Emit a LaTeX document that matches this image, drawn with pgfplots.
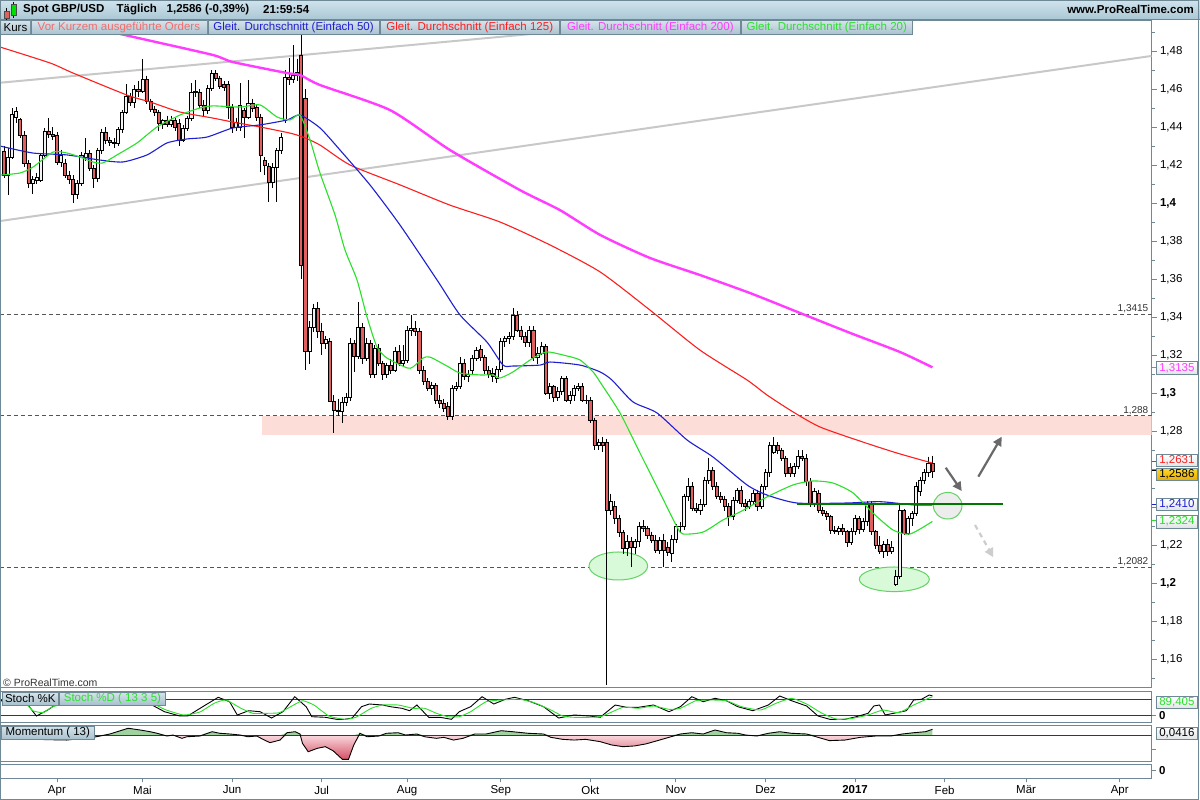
\documentclass[border=0pt]{standalone}
\usepackage{pgfplots}
\pgfplotsset{compat=1.18}
\usepackage{pgfplotstable}
\usepackage{fontspec}
\setmainfont{Liberation Sans}
\usetikzlibrary{arrows.meta}

\definecolor{framecol}{RGB}{111,136,150}
\definecolor{hdtop}{RGB}{208,227,236}
\definecolor{hdbot}{RGB}{170,199,213}
\definecolor{boxtop}{RGB}{214,228,235}
\definecolor{boxbot}{RGB}{168,193,206}
\definecolor{candlered}{RGB}{224,96,96}
\definecolor{candlewhite}{RGB}{243,243,243}
\definecolor{smagreen}{RGB}{40,225,40}
\definecolor{smablue}{RGB}{30,30,210}
\definecolor{smared}{RGB}{255,30,30}
\definecolor{smamag}{RGB}{255,60,255}
\definecolor{trendgray}{RGB}{200,200,200}
\definecolor{pinkzone}{RGB}{253,221,216}
\definecolor{darkgreen}{RGB}{0,120,0}
\definecolor{ellfill}{RGB}{216,250,216}
\definecolor{elldraw}{RGB}{100,210,100}
\definecolor{levelblue}{RGB}{40,40,180}
\definecolor{ordertext}{RGB}{240,110,110}
\definecolor{arrowgray}{RGB}{105,105,105}
\definecolor{lightarrow}{RGB}{205,205,205}
\definecolor{dashgray}{RGB}{85,85,85}
\definecolor{momgreen}{RGB}{160,210,160}
\definecolor{mompinktop}{RGB}{250,215,222}
\definecolor{mompinkbot}{RGB}{212,80,100}
\definecolor{goldtop}{RGB}{255,218,40}
\definecolor{goldbot}{RGB}{232,170,0}
\definecolor{valgray}{RGB}{225,228,230}

\pgfplotstableread{
i o h l c
0 1.4274 1.4300 1.4131 1.4147
1 1.4147 1.4290 1.4042 1.4242
2 1.4242 1.4500 1.4230 1.4468
3 1.4453 1.4505 1.4420 1.4480
4 1.4440 1.4447 1.4340 1.4358
5 1.4358 1.4380 1.4190 1.4210
6 1.4210 1.4225 1.4079 1.4105
7 1.4105 1.4140 1.4047 1.4126
8 1.4121 1.4160 1.4100 1.4137
9 1.4121 1.4265 1.4110 1.4252
10 1.4252 1.4395 1.4240 1.4379
11 1.4379 1.4447 1.4340 1.4363
12 1.4363 1.4400 1.4330 1.4352
13 1.4358 1.4375 1.4200 1.4216
14 1.4216 1.4280 1.4190 1.4252
15 1.4210 1.4230 1.4130 1.4147
16 1.4147 1.4170 1.4100 1.4126
17 1.4126 1.4145 1.4000 1.4047
18 1.4047 1.4120 1.4020 1.4105
19 1.4105 1.4270 1.4090 1.4252
20 1.4242 1.4342 1.4220 1.4262
21 1.4262 1.4280 1.4170 1.4184
22 1.4184 1.4200 1.4079 1.4131
23 1.4131 1.4290 1.4110 1.4279
24 1.4279 1.4390 1.4260 1.4374
25 1.4374 1.4400 1.4310 1.4332
26 1.4332 1.4350 1.4300 1.4321
27 1.4321 1.4340 1.4290 1.4316
28 1.4316 1.4400 1.4300 1.4389
29 1.4389 1.4490 1.4370 1.4479
30 1.4479 1.4626 1.4470 1.4563
31 1.4563 1.4580 1.4510 1.4531
32 1.4531 1.4620 1.4500 1.4600
33 1.4600 1.4640 1.4560 1.4589
34 1.4589 1.4758 1.4580 1.4652
35 1.4652 1.4670 1.4520 1.4537
36 1.4537 1.4550 1.4480 1.4495
37 1.4495 1.4510 1.4460 1.4479
38 1.4479 1.4490 1.4380 1.4421
39 1.4416 1.4440 1.4390 1.4437
40 1.4437 1.4460 1.4400 1.4416
41 1.4416 1.4460 1.4400 1.4437
42 1.4437 1.4450 1.4380 1.4400
43 1.4421 1.4440 1.4300 1.4332
44 1.4332 1.4410 1.4320 1.4395
45 1.4395 1.4460 1.4380 1.4447
46 1.4447 1.4631 1.4430 1.4584
47 1.4584 1.4647 1.4560 1.4589
48 1.4584 1.4600 1.4500 1.4516
49 1.4516 1.4540 1.4460 1.4490
50 1.4490 1.4620 1.4470 1.4605
51 1.4605 1.4700 1.4590 1.4684
52 1.4684 1.4700 1.4640 1.4658
53 1.4658 1.4670 1.4600 1.4616
54 1.4626 1.4640 1.4590 1.4610
55 1.4626 1.4640 1.4440 1.4505
56 1.4505 1.4520 1.4370 1.4400
57 1.4400 1.4450 1.4380 1.4426
58 1.4400 1.4631 1.4380 1.4516
59 1.4489 1.4500 1.4342 1.4453
60 1.4453 1.4647 1.4440 1.4526
61 1.4526 1.4550 1.4480 1.4500
62 1.4505 1.4520 1.4430 1.4453
63 1.4453 1.4470 1.4163 1.4252
64 1.4226 1.4240 1.4150 1.4200
65 1.4195 1.4210 1.4005 1.4110
66 1.4110 1.4210 1.4080 1.4189
67 1.4189 1.4290 1.4005 1.4279
68 1.4279 1.4370 1.4260 1.4347
69 1.4437 1.4700 1.4420 1.4661
70 1.4661 1.4763 1.4620 1.4650
71 1.4650 1.4832 1.4630 1.4670
72 1.4670 1.4760 1.4640 1.4690
73 1.4779 1.5018 1.3600 1.3674
74 1.4553 1.4600 1.3120 1.3217
75 1.3217 1.3380 1.3150 1.3346
76 1.3346 1.3470 1.3320 1.3446
77 1.3446 1.3480 1.3290 1.3323
78 1.3323 1.3370 1.3200 1.3262
79 1.3262 1.3300 1.3230 1.3285
80 1.3270 1.3290 1.2950 1.2954
81 1.2954 1.2990 1.2788 1.2911
82 1.2911 1.2970 1.2880 1.2905
83 1.2902 1.2980 1.2844 1.2949
84 1.2949 1.3000 1.2930 1.2977
85 1.2977 1.3290 1.2960 1.3262
86 1.3262 1.3280 1.3112 1.3195
87 1.3195 1.3480 1.3180 1.3346
88 1.3346 1.3370 1.3150 1.3183
89 1.3183 1.3290 1.3170 1.3262
90 1.3262 1.3280 1.3080 1.3098
91 1.3098 1.3250 1.3080 1.3235
92 1.3235 1.3260 1.3140 1.3156
93 1.3156 1.3170 1.3070 1.3098
94 1.3098 1.3160 1.3080 1.3147
95 1.3147 1.3180 1.3100 1.3120
96 1.3120 1.3240 1.3110 1.3217
97 1.3217 1.3250 1.3140 1.3156
98 1.3156 1.3250 1.3140 1.3174
99 1.3174 1.3350 1.3160 1.3332
100 1.3332 1.3411 1.3300 1.3340
101 1.3340 1.3380 1.3300 1.3323
102 1.3323 1.3340 1.3100 1.3121
103 1.3121 1.3140 1.3040 1.3060
104 1.3060 1.3080 1.3010 1.3025
105 1.3025 1.3060 1.2990 1.3040
106 1.3040 1.3050 1.2940 1.2960
107 1.2960 1.2990 1.2920 1.2946
108 1.2946 1.2970 1.2900 1.2919
109 1.2928 1.2950 1.2860 1.2875
110 1.2875 1.3040 1.2860 1.3025
111 1.3025 1.3060 1.3010 1.3033
112 1.3033 1.3190 1.3020 1.3156
113 1.3156 1.3180 1.3070 1.3086
114 1.3086 1.3120 1.3060 1.3100
115 1.3121 1.3200 1.3100 1.3183
116 1.3183 1.3240 1.3170 1.3226
117 1.3230 1.3250 1.3170 1.3188
118 1.3188 1.3200 1.3100 1.3121
119 1.3121 1.3140 1.3080 1.3100
120 1.3103 1.3130 1.3060 1.3086
121 1.3077 1.3140 1.3050 1.3125
122 1.3125 1.3290 1.3110 1.3270
123 1.3270 1.3300 1.3240 1.3288
124 1.3288 1.3320 1.3260 1.3297
125 1.3297 1.3445 1.3280 1.3411
126 1.3411 1.3430 1.3320 1.3332
127 1.3332 1.3350 1.3280 1.3300
128 1.3300 1.3320 1.3240 1.3265
129 1.3265 1.3350 1.3240 1.3332
130 1.3332 1.3350 1.3170 1.3188
131 1.3188 1.3240 1.3150 1.3209
132 1.3209 1.3270 1.3200 1.3244
133 1.3244 1.3260 1.2990 1.2998
134 1.2998 1.3050 1.2970 1.3033
135 1.3033 1.3040 1.2950 1.2977
136 1.2977 1.3030 1.2960 1.3011
137 1.3011 1.3090 1.2990 1.3077
138 1.3077 1.3090 1.2950 1.2963
139 1.2963 1.3010 1.2940 1.2989
140 1.2989 1.3040 1.2960 1.3025
141 1.3025 1.3050 1.3010 1.3033
142 1.3033 1.3050 1.2950 1.2960
143 1.2960 1.2990 1.2940 1.2963
144 1.2963 1.2980 1.2840 1.2855
145 1.2855 1.2870 1.2700 1.2726
146 1.2726 1.2760 1.2700 1.2742
147 1.2742 1.2770 1.2690 1.2726
148 1.2742 1.2760 1.1463 1.2384
149 1.2384 1.2470 1.2360 1.2428
150 1.2402 1.2430 1.2310 1.2340
151 1.2340 1.2360 1.2240 1.2265
152 1.2265 1.2280 1.2150 1.2183
153 1.2183 1.2250 1.2140 1.2218
154 1.2218 1.2240 1.2082 1.2190
155 1.2190 1.2230 1.2150 1.2218
156 1.2218 1.2320 1.2190 1.2296
157 1.2296 1.2330 1.2270 1.2288
158 1.2287 1.2300 1.2230 1.2253
159 1.2253 1.2270 1.2210 1.2226
160 1.2226 1.2250 1.2160 1.2174
161 1.2174 1.2240 1.2150 1.2226
162 1.2226 1.2260 1.2082 1.2170
163 1.2190 1.2215 1.2140 1.2160
164 1.2156 1.2250 1.2110 1.2230
165 1.2230 1.2310 1.2210 1.2296
166 1.2296 1.2320 1.2270 1.2300
167 1.2296 1.2470 1.2280 1.2454
168 1.2454 1.2553 1.2430 1.2511
169 1.2511 1.2530 1.2380 1.2393
170 1.2393 1.2420 1.2370 1.2384
171 1.2384 1.2440 1.2360 1.2416
172 1.2416 1.2560 1.2400 1.2542
173 1.2542 1.2660 1.2520 1.2595
174 1.2595 1.2610 1.2490 1.2511
175 1.2511 1.2530 1.2440 1.2454
176 1.2454 1.2480 1.2420 1.2440
177 1.2440 1.2460 1.2380 1.2402
178 1.2402 1.2420 1.2300 1.2349
179 1.2349 1.2450 1.2330 1.2437
180 1.2437 1.2500 1.2420 1.2489
181 1.2489 1.2510 1.2400 1.2419
182 1.2419 1.2440 1.2380 1.2405
183 1.2405 1.2440 1.2390 1.2430
184 1.2430 1.2490 1.2410 1.2472
185 1.2472 1.2490 1.2380 1.2402
186 1.2402 1.2520 1.2390 1.2507
187 1.2507 1.2600 1.2490 1.2581
188 1.2581 1.2740 1.2560 1.2726
189 1.2690 1.2767 1.2680 1.2726
190 1.2726 1.2740 1.2680 1.2696
191 1.2696 1.2710 1.2640 1.2656
192 1.2656 1.2670 1.2560 1.2577
193 1.2610 1.2630 1.2560 1.2577
194 1.2577 1.2630 1.2560 1.2616
195 1.2616 1.2700 1.2600 1.2668
196 1.2668 1.2700 1.2640 1.2656
197 1.2656 1.2680 1.2510 1.2533
198 1.2533 1.2550 1.2400 1.2416
199 1.2416 1.2500 1.2400 1.2481
200 1.2472 1.2490 1.2370 1.2384
201 1.2384 1.2400 1.2350 1.2365
202 1.2365 1.2380 1.2330 1.2349
203 1.2349 1.2360 1.2260 1.2279
204 1.2279 1.2300 1.2260 1.2270
205 1.2270 1.2300 1.2250 1.2288
206 1.2288 1.2310 1.2250 1.2270
207 1.2270 1.2280 1.2190 1.2212
208 1.2212 1.2290 1.2200 1.2270
209 1.2270 1.2360 1.2250 1.2340
210 1.2340 1.2350 1.2260 1.2281
211 1.2281 1.2340 1.2270 1.2322
212 1.2322 1.2430 1.2300 1.2416
213 1.2416 1.2430 1.2250 1.2270
214 1.2270 1.2280 1.2180 1.2200
215 1.2200 1.2247 1.2150 1.2165
216 1.2165 1.2220 1.2130 1.2205
217 1.2205 1.2230 1.2140 1.2165
218 1.2165 1.2220 1.2150 1.2190
219 1.1995 1.2070 1.1984 1.2033
220 1.2033 1.2415 1.2020 1.2384
221 1.2384 1.2390 1.2250 1.2261
222 1.2261 1.2350 1.2250 1.2340
223 1.2340 1.2380 1.2300 1.2366
224 1.2366 1.2530 1.2350 1.2507
225 1.2480 1.2560 1.2460 1.2542
226 1.2542 1.2600 1.2520 1.2580
227 1.2580 1.2665 1.2560 1.2630
228 1.2630 1.2670 1.2550 1.2586
}\candles

\pgfplotstableread{
i m
-0.98 -0.010
5 -0.020
10 -0.030
15.4 -0.033
21.9 -0.014
23.6 -0.005
26.0 0.009
27.8 0.025
30.5 0.049
33.4 0.037
35.9 0.025
37.6 0.014
40.0 -0.005
41.5 0.002
43.7 -0.021
44.9 -0.010
48.1 -0.005
51.1 0.025
53.0 0.014
55.5 0.009
58.0 0.002
59.9 -0.010
62.1 -0.005
63.6 -0.028
65.3 -0.051
67.8 -0.033
69.5 0.018
71.5 0.025
72.7 0.009
73.3 -0.056
74.7 -0.114
77.0 -0.090
78.9 -0.079
80.8 -0.107
83.1 -0.167
84.6 -0.167
85.9 -0.067
87.4 0.014
89.2 -0.010
92.1 -0.005
93.9 0.014
96.8 0.018
98.6 0.002
101.4 0.009
103.3 -0.010
106.2 -0.021
108.0 -0.014
110.4 -0.033
112.7 -0.021
115.6 0.009
118.4 0.009
122.1 0.032
124.9 0.025
128.7 0.014
132.5 0.009
134.3 -0.014
137.2 -0.028
140.0 -0.033
142.8 -0.028
146.4 -0.044
149.2 -0.067
152.0 -0.079
154.8 -0.074
157.6 -0.060
160.5 -0.037
163.3 -0.014
166.1 0.009
168.9 0.018
171.7 0.009
174.6 0.037
177.4 0.018
180.2 0.014
182.1 0.002
184.9 -0.005
187.7 0.014
190.5 0.025
193.4 0.014
197.1 0.009
199.9 -0.014
202.7 -0.037
206.5 -0.033
210.3 -0.014
214.0 -0.005
217.8 -0.005
220.6 0.009
223.4 0.018
226.3 0.025
228.0 0.0416
}\mom

\pgfplotsset{
  geo/.style={scale only axis, width=1151.5pt, height=667.7pt,
    xmin=-0.98, xmax=281.8, ymin=1.14489, ymax=1.49632},
  subgeo/.style={scale only axis, width=1151.5pt, xmin=-0.98, xmax=281.8,
    axis line style={framecol, line width=0.8pt}, xtick=\empty, ytick=\empty},
}

\newcommand{\legbox}[4]{%
  \node[draw=framecol, line width=0.6pt, top color=boxtop, bottom color=boxbot,
        anchor=north west, minimum width=#2, minimum height=14.5pt, inner sep=0pt,
        text=#3] at (#1,-20pt) {#4};}
\newcommand{\valbox}[3]{%
  \node[draw=framecol, line width=0.7pt, top color=white, bottom color=valgray,
        text=#2, anchor=west, minimum width=41pt, minimum height=12.6pt, inner sep=0.5pt]
        at (1156pt,#1) {#3};}

\begin{document}
\begin{tikzpicture}[x=1pt,y=1pt,font=\fontsize{11.5}{13.5}\selectfont]
\fill[white] (0,0) rectangle (1200,-800);
\useasboundingbox (0,0) rectangle (1200,-800);

% ---------- main panel: background, levels, wicks ----------
\begin{axis}[geo, at={(0pt,-687.7pt)}, anchor=south west,
  axis line style={framecol, line width=0.8pt},
  xtick=\empty,
  ytick={1.16,1.18,1.2,1.22,1.24,1.26,1.28,1.3,1.32,1.34,1.36,1.38,1.4,1.42,1.44,1.46,1.48},
  yticklabels={{1,16},{1,18},{\textbf{1,2}},{1,22},{},{},{1,28},{\textbf{1,3}},{1,32},{1,34},{1,36},{1,38},{\textbf{1,4}},{1,42},{1,44},{1,46},{1,48}},
  minor ytick={1.15,1.17,1.19,1.21,1.23,1.25,1.27,1.29,1.31,1.33,1.35,1.37,1.39,1.41,1.43,1.45,1.47,1.49},
  yticklabel pos=right, ytick pos=right, tick align=outside,
  major tick length=5pt, minor tick length=3pt,
  every tick/.style={framecol, line width=0.8pt},
  yticklabel style={font=\fontsize{11.5}{13}\selectfont, text=black},
]
\fill[pinkzone] (axis cs:63.36,1.2777) rectangle (axis cs:281.8,1.288);
\addplot[dashgray, line width=0.8pt, dash pattern=on 4pt off 3pt] coordinates {(-0.98,1.3415) (281.8,1.3415)};
\addplot[dashgray, line width=0.8pt, dash pattern=on 4pt off 3pt] coordinates {(-0.98,1.288) (281.8,1.288)};
\addplot[dashgray, line width=0.8pt, dash pattern=on 4pt off 3pt] coordinates {(-0.98,1.2082) (281.8,1.2082)};
\addplot[trendgray, line width=2pt] coordinates {(-0.98,1.4633) (281.8,1.5189)};
\addplot[trendgray, line width=2pt] coordinates {(-0.98,1.3905) (281.8,1.4774)};
\draw[fill=ellfill, draw=elldraw, line width=1pt] (axis cs:150.86,1.20895) ellipse [x radius=29.3pt, y radius=14pt];
\draw[fill=ellfill, draw=elldraw, line width=1pt] (axis cs:218.64,1.20195) ellipse [x radius=35pt, y radius=12.3pt];
\node[anchor=south east, inner sep=1pt, font=\fontsize{10}{11}\selectfont, text=black!80] at (axis cs:281.3,1.3415) {1,3415};
\node[anchor=south east, inner sep=1pt, font=\fontsize{10}{11}\selectfont, text=black!80] at (axis cs:281.3,1.288) {1,288};
\node[anchor=south east, inner sep=1pt, font=\fontsize{10}{11}\selectfont, text=black!80] at (axis cs:281.3,1.2082) {1,2082};
\addplot[draw=none, mark=none, error bars/.cd, y dir=minus, y explicit, error mark=none,
  error bar style={draw=black, line width=0.75pt, solid}]
  table[x=i, y=h, y error expr={\thisrow{h}-\thisrow{l}}] {\candles};
\end{axis}

% ---------- candle bodies ----------
\begin{axis}[geo, at={(0pt,-687.7pt)}, anchor=south west, hide axis, ybar stacked, bar width=3.1pt]
\addplot[draw=none, fill=none] table[x=i, y expr={min(\thisrow{o},\thisrow{c})}] {\candles};
\addplot[draw=black, line width=0.7pt, fill=candlered] table[x=i, y expr={max(\thisrow{o}-\thisrow{c},0)}] {\candles};
\addplot[draw=black, line width=0.7pt, fill=candlewhite] table[x=i, y expr={max(\thisrow{c}-\thisrow{o},0)}] {\candles};
\end{axis}

% ---------- moving averages and annotations ----------
\begin{axis}[geo, at={(0pt,-687.7pt)}, anchor=south west, hide axis]
\addplot[smamag, line width=2.4pt, smooth, tension=0.4] coordinates {
(-0.98,1.5032) (35.1,1.4858) (51.3,1.4779) (56.2,1.4742) (69.5,1.4684) (72.7,1.4674)
(77.6,1.4621) (94.8,1.4489) (109.5,1.4279) (126.7,1.4068) (136.5,1.3963) (146.4,1.3832)
(158.6,1.3711) (170.9,1.3621) (183.2,1.3526) (195.5,1.3421) (207.8,1.3316) (220.0,1.3216) (228,1.3135)};
\addplot[smared, line width=1.1pt, smooth, tension=0.4] coordinates {
(-0.98,1.4821) (11.3,1.4737) (16.95,1.4684) (30.2,1.4568) (35.85,1.4532) (43.2,1.4479)
(51.3,1.4447) (56.2,1.4426) (62.9,1.4400) (70.2,1.4368) (73.4,1.4347) (77.6,1.4305)
(85.0,1.4200) (97.3,1.4095) (109.5,1.3989) (121.8,1.3900) (134.1,1.3779) (146.4,1.3637)
(158.6,1.3437) (170.9,1.3226) (182.5,1.3068) (187.4,1.2989) (193.8,1.2900) (200.4,1.2821)
(210.9,1.2742) (219.3,1.2684) (228,1.2631)};
\addplot[smablue, line width=1.1pt, smooth, tension=0.4] coordinates {
(-0.98,1.4300) (7.12,1.4263) (15.47,1.4253) (23.58,1.4226) (29.22,1.4216) (35.12,1.4253)
(40.03,1.4316) (44.94,1.4337) (49.85,1.4347) (56.24,1.4395) (62.87,1.4411) (69.50,1.4437)
(72.69,1.4463) (77.60,1.4395) (82.51,1.4279) (89.88,1.4095) (97.25,1.3884) (106.34,1.3595)
(111.98,1.3411) (118.61,1.3268) (122.54,1.3147) (125.00,1.3142) (131.63,1.3147) (134.09,1.3163)
(141.45,1.3147) (146.37,1.3111) (149.31,1.3068) (154.47,1.2953) (160.36,1.2895) (167.73,1.2753)
(174.12,1.2663) (182.47,1.2516) (187.38,1.2463) (194.74,1.2421) (207.02,1.2421) (215.13,1.2428)
(223.23,1.2411) (228,1.2410)};
\addplot[smagreen, line width=1.1pt, smooth, tension=0.4] coordinates {
(-0.98,1.4147) (3.93,1.4158) (7.12,1.4189) (12.03,1.4268) (15.47,1.4263) (18.66,1.4242)
(21.86,1.4216) (24.31,1.4211) (27.75,1.4253) (32.66,1.4316) (37.57,1.4400) (43.22,1.4463)
(48.13,1.4500) (51.33,1.4511) (57.96,1.4505) (62.87,1.4516) (67.04,1.4453) (70.24,1.4437)
(72.69,1.4463) (75.15,1.4332) (77.60,1.4158) (81.29,1.3937) (83.74,1.3753) (86.69,1.3595)
(89.15,1.3400) (91.60,1.3242) (94.06,1.3184) (98.97,1.3132) (100.44,1.3137) (102.90,1.3184)
(104.62,1.3189) (108.79,1.3142) (111.98,1.3105) (116.90,1.3095) (120.09,1.3095) (121.81,1.3079)
(125.00,1.3111) (129.91,1.3184) (133.35,1.3216) (137.28,1.3200) (141.45,1.3174) (144.65,1.3111)
(146.37,1.3058) (151.28,1.2895) (156.19,1.2684) (161.10,1.2474) (165.28,1.2295) (166.75,1.2258)
(171.66,1.2268) (176.57,1.2332) (180.75,1.2374) (187.38,1.2453) (193.76,1.2516) (198.67,1.2537)
(203.59,1.2526) (208.50,1.2474) (213.41,1.2368) (218.32,1.2279) (222.50,1.2258) (228,1.2324)};
\draw[fill=black!7, draw=elldraw, line width=1pt] (axis cs:231.75,1.24068) ellipse [x radius=14.3pt, y radius=13.3pt];
\addplot[darkgreen, line width=2.6pt] coordinates {(194.75,1.24158) (245.33,1.24158)};
\draw[arrowgray, line width=2.2pt, -{Triangle[length=9pt,width=9pt]}] (axis cs:231.26,1.26068) -- (axis cs:235.19,1.24842);
\draw[arrowgray, line width=2.2pt, -{Triangle[length=9pt,width=9pt]}] (axis cs:239.27,1.25595) -- (axis cs:245.01,1.2770);
\draw[lightarrow, line width=2.2pt, dash pattern=on 5pt off 4pt, -{Triangle[length=9pt,width=9pt]}] (axis cs:238.46,1.23053) -- (axis cs:242.95,1.21353);
\end{axis}

% ---------- stochastic panel ----------
\begin{axis}[subgeo, at={(0pt,-722.3pt)}, anchor=south west, height=30.6pt, ymin=-8, ymax=108.9]
\addplot[levelblue, line width=0.9pt] coordinates {(-0.98,80) (281.8,80)};
\addplot[levelblue, line width=0.9pt] coordinates {(-0.98,20) (281.8,20)};
\addplot[black, line width=0.9pt] coordinates {
(-0.98,75) (2,80) (5.6,64.6) (7.96,16.0) (10.76,39.0) (13.26,65.7) (18.7,84.8) (23.6,98) (28.5,88.6)
(33.4,77.2) (35.9,61.9) (39.4,32.5) (43.2,16.0) (45.1,16.0) (48.8,51.6) (52.6,87.5) (55.4,70.7)
(57.3,19.9) (60.1,36.3) (62.9,32.5) (65.7,8.4) (68.5,32.5) (71.4,89.8) (74.2,51.6) (75.6,13.4)
(78.9,11.1) (81.7,3.4) (83.6,3.4) (85.5,8.4) (87.8,51.6) (89.7,61.9) (93.0,58.1) (94.9,51.6)
(97.7,45.5) (99.6,36.3) (101.4,58.1) (104.3,11.1) (107.1,11.1) (109.9,3.4) (111.8,32.5) (114.6,51.6)
(117.4,89.8) (120.3,61.9) (123.1,79.9) (125.4,87.5) (128.7,74.5) (132.5,51.6) (136.2,8.4) (140.0,19.9)
(143.8,16.0) (146.4,11.1) (150.1,58.1) (152.9,49.3) (155.8,49.3) (159.5,58.1) (163.3,32.5) (166.1,51.6)
(168.9,89.8) (171.7,70.7) (174.6,83.7) (177.4,74.5) (180.2,51.6) (183.9,36.3) (187.7,58.1) (190.5,92.5)
(193.4,74.5) (197.1,54.3) (199.9,16.0) (202.8,3.4) (206.5,3.4) (209.3,13.4) (212.2,26.4) (213.6,54.3)
(215.0,58.1) (216.4,19.9) (219.2,28.7) (221.6,36.3) (223.4,77.2) (225.3,79.9) (227.2,96.3) (228.0,93)};
\addplot[smagreen, line width=0.9pt, smooth, tension=0.3] coordinates {
(-0.98,70) (3,75) (5.6,60) (7.1,36.3) (9.6,28.7) (12.0,51.6) (18.7,77.2) (23.6,88.6) (30.9,84.8)
(35.9,69.5) (39.4,41.6) (44.1,19.9) (48.1,31.3) (51.6,64.6) (54.5,77.2) (58.2,45.5) (61.1,26.4)
(64.8,26.4) (67.6,28.7) (70.4,51.6) (73.3,74.5) (76.1,58.1) (79.8,16.0) (83.6,3.4) (86.4,11.1)
(90.2,45.5) (93.0,58.1) (96.8,58.1) (100.5,45.5) (103.3,45.5) (106.2,26.4) (109.0,13.4) (111.8,13.4)
(114.6,32.5) (118.4,70.7) (122.1,77.2) (126.8,79.9) (130.6,64.6) (134.3,39.0) (137.2,16.0) (140.0,11.1)
(146.4,13.4) (152.0,49.3) (155.8,45.5) (159.5,54.3) (163.3,41.6) (166.1,45.5) (169.9,74.5) (173.6,77.2)
(177.4,74.5) (181.1,51.6) (185.8,39.0) (189.6,64.6) (193.4,83.7) (197.1,61.9) (200.9,26.4) (204.6,3.4)
(208.4,7.3) (212.2,19.9) (215.9,39.0) (219.7,28.7) (223.4,58.1) (227.2,85) (228.0,89.4)};
\end{axis}

% ---------- momentum panel ----------
\begin{axis}[subgeo, at={(0pt,-761pt)}, anchor=south west, height=35.3pt, ymin=-0.1785, ymax=0.0667]
\addplot[draw=none, fill=momgreen] table[x=i, y expr={max(\thisrow{m},0)}] {\mom} \closedcycle;
\addplot[draw=none, top color=mompinktop, bottom color=mompinkbot] table[x=i, y expr={min(\thisrow{m},0)}] {\mom} \closedcycle;
\addplot[levelblue, line width=0.9pt] coordinates {(-0.98,0) (281.8,0)};
\addplot[black, line width=0.9pt] table[x=i, y=m] {\mom};
\end{axis}

% ---------- empty strip with time axis ----------
\begin{axis}[scale only axis, width=1151.5pt, height=14pt, at={(0pt,-778.3pt)}, anchor=south west,
  xmin=-0.98, xmax=281.8, ymin=0, ymax=1, ytick=\empty,
  axis line style={framecol, line width=0.8pt},
  xtick={13,34,56,78,99,122,144,165,187,209,231,251,274},
  xticklabels={Apr,Mai,Jun,Jul,Aug,Sep,Okt,Nov,Dez,\textbf{2017},Feb,Mär,Apr},
  xtick pos=bottom, tick align=outside, major tick length=4pt,
  every tick/.style={framecol, line width=0.8pt},
  xticklabel style={font=\fontsize{11.5}{13}\selectfont, text=black},
]
\end{axis}

% ---------- header ----------
\shade[top color=hdtop, bottom color=hdbot] (0,0) rectangle (1200,-19.5);
\draw[framecol, line width=0.6pt] (0,-19.5) -- (1200,-19.5);
\draw[black, line width=0.6pt] (6.5,-8) -- (6.5,-21);
\filldraw[fill=candlered, draw=black!70, line width=0.5pt] (4.2,-11.5) rectangle (8.8,-18.5);
\draw[black, line width=0.6pt] (13.7,-2) -- (13.7,-18);
\filldraw[fill=green!80!black!60!green, draw=black!70, line width=0.5pt] (11.4,-4.6) rectangle (16,-15.5);
\node[anchor=west, inner sep=0pt] at (23,-9.8) {\textbf{Spot GBP/USD}};
\node[anchor=west, inner sep=0pt] at (116.5,-9.8) {\textbf{Täglich}};
\node[anchor=west, inner sep=0pt] at (166.5,-9.8) {\textbf{1,2586 (-0,39\%)}};
\node[anchor=west, inner sep=0pt] at (263,-9.8) {\textbf{21:59:54}};
\node[anchor=east, inner sep=0pt] at (1194,-9.8) {\textbf{www.ProRealTime.com}};

% ---------- legend row ----------
\begingroup\fontsize{11.5}{13}\selectfont
\legbox{0.4pt}{29.6pt}{black}{Kurs}
\legbox{30.6pt}{176pt}{ordertext}{Vor Kurzem ausgeführte Orders}
\legbox{207.6pt}{171.4pt}{smablue}{Gleit. Durchschnitt (Einfach 50)}
\legbox{380pt}{179pt}{smared}{Gleit. Durchschnitt (Einfach 125)}
\legbox{560pt}{180pt}{smamag}{Gleit. Durchschnitt (Einfach 200)}
\legbox{741pt}{171pt}{smagreen}{Gleit. Durchschnitt (Einfach 20)}
\endgroup

% ---------- panel labels ----------
\node[anchor=west, inner sep=0pt, font=\fontsize{10.5}{12}\selectfont, text=black!80] at (3,-682.5) {© ProRealTime.com};
\node[draw=framecol, line width=0.6pt, top color=boxtop, bottom color=boxbot, anchor=north west,
      minimum width=56.6pt, minimum height=12.8pt, inner sep=0pt] at (1.7,-691.7) {Stoch \%K};
\node[draw=framecol, line width=0.6pt, top color=boxtop, bottom color=boxbot, anchor=north west,
      minimum width=105.7pt, minimum height=12.8pt, inner sep=0pt, text=smagreen] at (59.3,-691.7) {Stoch \%D ( 13 3 5)};
\node[draw=framecol, line width=0.6pt, top color=boxtop, bottom color=boxbot, anchor=north west,
      minimum width=93.6pt, minimum height=13.6pt, inner sep=0pt] at (0.7,-725.7) {Momentum ( 13)};

% ---------- right value labels ----------
\draw[smamag, line width=1pt] (1151.5,-367.4) -- (1156,-367.4);
\draw[smared, line width=1pt] (1151.5,-461.7) -- (1156,-461.7);
\draw[black, line width=1pt] (1151.5,-470.3) -- (1156,-470.3);
\draw[smablue, line width=1pt] (1151.5,-504.2) -- (1156,-504.2);
\draw[smagreen, line width=1pt] (1151.5,-520.6) -- (1156,-520.6);
\valbox{-368}{smamag}{1,3135}
\valbox{-460.3}{smared}{1,2631}
\node[draw=framecol, line width=0.7pt, top color=goldtop, bottom color=goldbot,
      text=black, anchor=west, minimum width=41pt, minimum height=12.6pt, inner sep=0.5pt]
      at (1156pt,-474.4) {1,2586};
\valbox{-504.4}{smablue}{1,2410}
\valbox{-521.7}{smagreen}{1,2324}
\valbox{-702.5}{smagreen}{89,405}
\valbox{-733.2}{black}{0,0416}
\draw[framecol, line width=0.8pt] (1151.5,-715) -- (1155.5,-715);
\draw[framecol, line width=0.8pt] (1151.5,-770) -- (1155.5,-770);
\draw[framecol, line width=0.8pt] (1151.5,-749) -- (1155.5,-749);
\node[anchor=west, inner sep=0pt] at (1159,-715.5) {\textbf{0}};
\node[anchor=west, inner sep=0pt] at (1159,-770.5) {\textbf{0}};

% ---------- outer frame ----------
\draw[framecol, line width=0.8pt] (0.4,-0.4) rectangle (1198.4,-799.4);
\end{tikzpicture}
\end{document}
